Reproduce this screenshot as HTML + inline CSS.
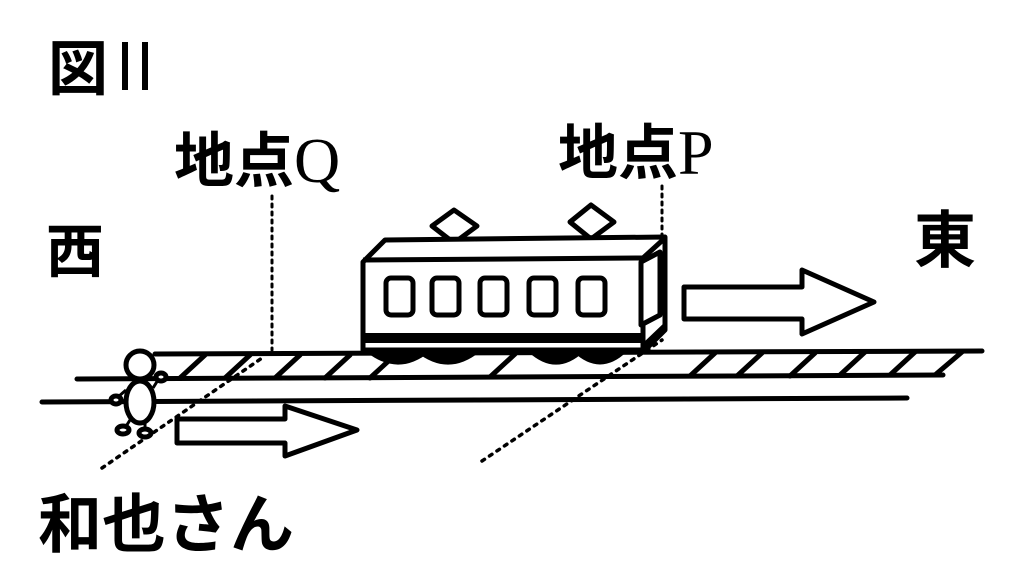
<!DOCTYPE html>
<html><head><meta charset="utf-8"><style>
html,body{margin:0;padding:0;background:#fff;}
svg{display:block;}
text{font-family:"Liberation Sans","Noto Sans CJK JP",sans-serif;fill:#000;}
</style></head><body>
<svg width="1024" height="586" viewBox="0 0 1024 586" xmlns="http://www.w3.org/2000/svg">
<g stroke="#000" fill="none" stroke-linecap="round">
<line x1="155" y1="354" x2="982" y2="351" stroke-width="5"/>
<line x1="77" y1="379" x2="943" y2="375" stroke-width="5"/>
<line x1="42" y1="402" x2="907" y2="398" stroke-width="5"/>
<g stroke-width="5">
<line x1="180" y1="378" x2="205" y2="355"/>
<line x1="225" y1="378" x2="250" y2="355"/>
<line x1="275" y1="378" x2="300" y2="355"/>
<line x1="325" y1="378" x2="350" y2="355"/>
<line x1="370" y1="378" x2="395" y2="355"/>
<line x1="490" y1="377" x2="515" y2="354"/>
<line x1="690" y1="376" x2="715" y2="353"/>
<line x1="737" y1="376" x2="762" y2="353"/>
<line x1="790" y1="376" x2="815" y2="353"/>
<line x1="840" y1="375" x2="865" y2="352"/>
<line x1="890" y1="375" x2="915" y2="352"/>
<line x1="935" y1="375" x2="962" y2="352"/>
</g>
<line x1="272" y1="196" x2="272" y2="350" stroke-width="3" stroke-dasharray="3 5"/>
<line x1="662" y1="186" x2="662" y2="335" stroke-width="3" stroke-dasharray="3 5"/>
<line x1="102" y1="468" x2="262" y2="358" stroke-width="3.5" stroke-dasharray="3 6"/>
<line x1="482" y1="461" x2="662" y2="340" stroke-width="3.5" stroke-dasharray="3 6"/>
</g>
<g stroke="#000" stroke-width="5" stroke-linejoin="round" fill="#fff">
<polygon points="432,226 454,210 477,226 454,243"/>
<polygon points="570,222 591,205 614,222 591,239"/>
<path d="M368,350 Q398,374 428,350 Z" fill="#000"/>
<path d="M418,350 Q448,374 478,350 Z" fill="#000"/>
<path d="M530,350 Q556,374 582,350 Z" fill="#000"/>
<path d="M575,350 Q600,374 625,350 Z" fill="#000"/>
<path d="M363,262 L385,240 L665,237 L665,330 L645,350 L363,350 Z"/>
<line x1="363" y1="260" x2="643" y2="258"/>
<line x1="643" y1="258" x2="665" y2="238"/>
<line x1="643" y1="258" x2="643" y2="350"/>
<rect x="365" y="333" width="278" height="10" fill="#000" stroke="none"/>
<polygon points="643,343 665,322 665,332 645,350" fill="#000" stroke="none"/>
<rect x="386" y="278" width="27" height="37" rx="5"/>
<rect x="432" y="278" width="27" height="37" rx="5"/>
<rect x="480" y="278" width="27" height="37" rx="5"/>
<rect x="529" y="278" width="27" height="37" rx="5"/>
<rect x="578" y="278" width="27" height="37" rx="5"/>
<polygon points="641,262 660,252 660,315 641,325"/>
<polygon points="684,287 802,287 802,270 874,302 802,334 802,319 684,319"/>
<polygon points="177,419 285,419 285,406 357,430 285,456 285,443 177,443"/>
<ellipse cx="140" cy="402" rx="14" ry="21"/>
<circle cx="140" cy="365" r="14"/>
<ellipse cx="161" cy="377" rx="5" ry="4"/>
<ellipse cx="116" cy="400" rx="5" ry="4"/>
<ellipse cx="123" cy="430" rx="6" ry="4"/>
<ellipse cx="145" cy="433" rx="6" ry="4"/>
</g>
<g stroke="#000" stroke-width="3" fill="none">
<line x1="130" y1="420" x2="125" y2="428"/>
<line x1="145" y1="422" x2="145" y2="430"/>
<line x1="126" y1="390" x2="118" y2="397"/>
<line x1="153" y1="388" x2="158" y2="380"/>
</g>
<text x="48" y="90" font-size="60" font-weight="bold">図</text>
<rect x="122" y="42" width="6" height="48" fill="#000"/>
<rect x="142" y="42" width="6" height="48" fill="#000"/>
<text x="174" y="182" font-size="60" font-weight="bold">地点<tspan font-family="Liberation Serif, serif" font-weight="normal" font-size="64">Q</tspan></text>
<text x="558" y="174" font-size="60" font-weight="bold">地点<tspan font-family="Liberation Serif, serif" font-weight="normal" font-size="64">P</tspan></text>
<text x="46" y="272" font-size="58" font-weight="bold">西</text>
<text x="914" y="262" font-size="62" font-weight="bold">東</text>
<text x="38" y="547" font-size="64" font-weight="bold">和也さん</text>
</svg>
</body></html>
